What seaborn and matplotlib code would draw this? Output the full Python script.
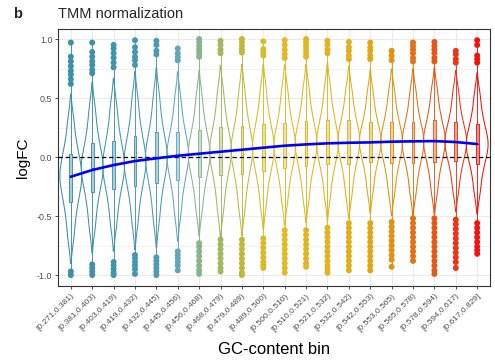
import numpy as np
import pandas as pd
import matplotlib
matplotlib.use("Agg")
import matplotlib.pyplot as plt
from matplotlib.ticker import FixedLocator
from matplotlib.colors import to_rgb
import seaborn as sns

# GC-content bins (x categories)
gc_bins = ["[0.271,0.381)", "[0.381,0.403)", "[0.403,0.419)", "[0.419,0.432)",
           "[0.432,0.445)", "[0.445,0.456)", "[0.456,0.468)", "[0.468,0.479)",
           "[0.479,0.489)", "[0.489,0.500)", "[0.500,0.510)", "[0.510,0.521)",
           "[0.521,0.532)", "[0.532,0.542)", "[0.542,0.553)", "[0.553,0.565)",
           "[0.565,0.578)", "[0.578,0.594)", "[0.594,0.617)", "[0.617,0.829]"]

# logFC distribution per bin, summarised by evenly spaced quantiles (k/12)
logfc_min = [-1.00, -1.00, -1.00, -0.99, -1.00, -0.96, -0.99, -0.97, -1.00, -0.94,
             -0.98, -0.93, -0.98, -0.96, -0.96, -0.93, -0.88, -0.99, -0.94, -0.82]
logfc_q08 = [-0.67, -0.58, -0.56, -0.54, -0.52, -0.48, -0.44, -0.44, -0.43, -0.39,
             -0.36, -0.34, -0.32, -0.31, -0.28, -0.295, -0.295, -0.285, -0.27, -0.29]
logfc_q17 = [-0.49, -0.40, -0.38, -0.35, -0.33, -0.30, -0.27, -0.26, -0.25, -0.21,
             -0.19, -0.17, -0.15, -0.15, -0.125, -0.14, -0.14, -0.13, -0.12, -0.14]
logfc_q25 = [-0.38, -0.295, -0.275, -0.245, -0.22, -0.195, -0.17, -0.155, -0.145, -0.115,
             -0.095, -0.075, -0.06, -0.055, -0.04, -0.05, -0.05, -0.04, -0.035, -0.055]
logfc_q33 = [-0.29, -0.20, -0.18, -0.15, -0.12, -0.10, -0.08, -0.06, -0.05, -0.03,
             -0.01, 0.01, 0.02, 0.03, 0.04, 0.03, 0.03, 0.04, 0.04, 0.02]
logfc_q42 = [-0.22, -0.14, -0.12, -0.09, -0.06, -0.04, -0.02, 0.00, 0.01, 0.03,
             0.05, 0.07, 0.08, 0.08, 0.09, 0.08, 0.08, 0.09, 0.09, 0.07]
logfc_median = [-0.17, -0.09, -0.07, -0.035, -0.005, 0.01, 0.025, 0.05, 0.06, 0.08,
                0.095, 0.115, 0.125, 0.13, 0.13, 0.125, 0.125, 0.135, 0.13, 0.11]
logfc_q58 = [-0.12, -0.04, -0.02, 0.02, 0.05, 0.06, 0.075, 0.10, 0.11, 0.13,
             0.14, 0.16, 0.17, 0.175, 0.17, 0.17, 0.17, 0.18, 0.17, 0.15]
logfc_q67 = [-0.06, 0.02, 0.05, 0.08, 0.11, 0.12, 0.135, 0.16, 0.17, 0.19,
             0.20, 0.22, 0.23, 0.23, 0.22, 0.22, 0.22, 0.23, 0.22, 0.20]
logfc_q75 = [0.025, 0.115, 0.14, 0.18, 0.21, 0.21, 0.225, 0.255, 0.265, 0.28,
             0.29, 0.305, 0.315, 0.31, 0.30, 0.30, 0.30, 0.31, 0.30, 0.28]
logfc_q83 = [0.12, 0.22, 0.25, 0.29, 0.32, 0.31, 0.325, 0.36, 0.37, 0.38,
             0.39, 0.40, 0.41, 0.40, 0.385, 0.39, 0.39, 0.40, 0.385, 0.365]
logfc_q92 = [0.30, 0.40, 0.43, 0.48, 0.51, 0.49, 0.505, 0.54, 0.55, 0.56,
             0.56, 0.57, 0.58, 0.56, 0.54, 0.545, 0.545, 0.555, 0.54, 0.52]
logfc_max = [0.97, 0.97, 0.95, 0.99, 0.985, 0.92, 1.00, 0.985, 1.00, 0.98,
             0.99, 1.00, 0.985, 0.975, 0.97, 0.90, 0.97, 0.975, 0.90, 0.99]

# Outlying genes beyond the box whiskers
upper_points = [
    [0.97, 0.85, 0.81, 0.77, 0.73, 0.70, 0.66, 0.62],
    [0.97, 0.89, 0.85, 0.81, 0.78, 0.74, 0.71],
    [0.95, 0.92, 0.88, 0.84, 0.80, 0.76],
    [0.99, 0.93, 0.89, 0.85, 0.82, 0.78],
    [0.985, 0.95, 0.90, 0.87],
    [0.92, 0.88, 0.85, 0.82],
    [1.00, 0.97, 0.94, 0.91, 0.88, 0.85],
    [0.985, 0.95, 0.91, 0.88],
    [1.00, 0.97, 0.94, 0.91, 0.885],
    [0.98, 0.915, 0.885, 0.86],
    [0.99, 0.95, 0.91, 0.87, 0.84],
    [1.00, 0.97, 0.94, 0.91, 0.88, 0.85],
    [0.985, 0.95, 0.91, 0.88],
    [0.975, 0.93, 0.90, 0.86, 0.83],
    [0.97, 0.93, 0.90, 0.86, 0.83],
    [0.90, 0.86, 0.82],
    [0.97, 0.94, 0.91, 0.88, 0.84, 0.81],
    [0.975, 0.94, 0.91, 0.88, 0.84, 0.81],
    [0.90, 0.87, 0.83, 0.80],
    [0.99, 0.95, 0.86, 0.83, 0.80],
]
lower_points = [
    [-0.97, -1.00],
    [-0.91, -0.94, -0.97, -1.00],
    [-0.89, -0.92, -0.95, -0.98, -1.00],
    [-0.83, -0.86, -0.89, -0.92, -0.95, -0.99],
    [-0.85, -0.88, -0.91, -0.94, -0.97, -1.00],
    [-0.80, -0.83, -0.86, -0.89, -0.92, -0.96],
    [-0.73, -0.76, -0.80, -0.84, -0.88, -0.92, -0.96, -0.99],
    [-0.70, -0.74, -0.78, -0.82, -0.86, -0.90, -0.94, -0.97],
    [-0.70, -0.74, -0.78, -0.82, -0.86, -0.90, -0.94, -0.98, -1.00],
    [-0.69, -0.73, -0.77, -0.81, -0.85, -0.89, -0.92, -0.94],
    [-0.62, -0.66, -0.70, -0.74, -0.78, -0.82, -0.86, -0.90, -0.94, -0.98],
    [-0.62, -0.66, -0.70, -0.74, -0.78, -0.82, -0.86, -0.90, -0.93],
    [-0.60, -0.64, -0.68, -0.72, -0.76, -0.80, -0.84, -0.88, -0.92, -0.95, -0.98],
    [-0.56, -0.60, -0.64, -0.68, -0.72, -0.76, -0.80, -0.84, -0.88, -0.92, -0.96],
    [-0.56, -0.60, -0.64, -0.68, -0.72, -0.76, -0.80, -0.84, -0.88, -0.92, -0.96],
    [-0.55, -0.59, -0.63, -0.67, -0.71, -0.75, -0.79, -0.83, -0.87, -0.93],
    [-0.52, -0.56, -0.60, -0.64, -0.68, -0.72, -0.76, -0.80, -0.84, -0.88],
    [-0.52, -0.56, -0.60, -0.64, -0.68, -0.72, -0.76, -0.80, -0.84, -0.88, -0.92, -0.96, -0.99],
    [-0.53, -0.57, -0.61, -0.65, -0.69, -0.73, -0.77, -0.81, -0.85, -0.89, -0.94],
    [-0.56, -0.60, -0.64, -0.68, -0.72, -0.76, -0.79, -0.82],
]

# Smoothed logFC trend across bins
trend_logfc = [-0.167, -0.11, -0.068, -0.034, -0.011, 0.011, 0.028, 0.045, 0.062, 0.079,
               0.096, 0.107, 0.116, 0.121, 0.124, 0.13, 0.133, 0.135, 0.127, 0.11]

bin_colors = ["#3A8FA9", "#3D91AB", "#4094AD", "#4596AF", "#4C9BB2", "#63A7B7",
              "#87B38F", "#A2B85F", "#C0BA3A", "#D6BD26", "#E2BA26", "#E2B622",
              "#E2B31E", "#E2AF1A", "#E0A616", "#E09212", "#E27214", "#E65616",
              "#EC3516", "#F2140C"]

inner_sets = [logfc_q08, logfc_q17, logfc_q25, logfc_q33, logfc_q42, logfc_median,
              logfc_q58, logfc_q67, logfc_q75, logfc_q83, logfc_q92]
all_sets = [logfc_min] + inner_sets + [logfc_max]

core = pd.DataFrame(
    [(lab, v) for q in inner_sets for lab, v in zip(gc_bins, q)],
    columns=["bin", "logFC"])
full = pd.DataFrame(
    [(lab, v) for q in all_sets for lab, v in zip(gc_bins, q)],
    columns=["bin", "logFC"])
outliers = pd.DataFrame(
    [(lab, v) for lab, up, lo in zip(gc_bins, upper_points, lower_points) for v in up + lo],
    columns=["bin", "logFC"])

sns.set_theme(style="white")
plt.rcParams["font.family"] = ["Liberation Sans", "DejaVu Sans"]
plt.rcParams["axes.unicode_minus"] = False

fig = plt.figure(figsize=(4.95, 3.61), dpi=100)
ax = fig.add_axes([58 / 495, 1 - 286 / 361, 432 / 495, 257 / 361])

# zero reference line
ax.axhline(0, color="black", lw=0.9, ls=(0, (3.4, 2.4)), zorder=3)

# violins of the central mass, tapering tails
sns.violinplot(data=core, x="bin", y="logFC", hue="bin", order=gc_bins,
               hue_order=gc_bins, palette=bin_colors, fill=False, inner=None,
               cut=2.0, bw_method=0.42, density_norm="width", width=1.02,
               linewidth=0.75, gridsize=250, legend=False, ax=ax)

# narrow boxes; whiskers run to the extreme values
for lab, col in zip(gc_bins, bin_colors):
    sub = full[full["bin"] == lab]
    face = tuple(0.45 * c + 0.55 for c in to_rgb(col))
    sns.boxplot(x=sub["bin"], y=sub["logFC"], order=gc_bins, color=face,
                linecolor=col, saturation=1, width=0.13, whis=(0, 100),
                showfliers=False, showcaps=False, linewidth=0.65, ax=ax)

sns.stripplot(data=outliers, x="bin", y="logFC", hue="bin", order=gc_bins,
              hue_order=gc_bins, palette=bin_colors, jitter=False, size=4.3,
              linewidth=0, legend=False, ax=ax, zorder=4)

sns.lineplot(x=np.arange(len(gc_bins)), y=trend_logfc, color="#0000FF",
             lw=1.9, ax=ax, zorder=6)

ax.set_xlim(-0.6, len(gc_bins) - 0.4)
ax.set_ylim(-1.093, 1.085)
ax.set_yticks([-1.0, -0.5, 0.0, 0.5, 1.0])
ax.set_yticklabels(["-1.0", "-0.5", "0.0", "0.5", "1.0"])
ax.yaxis.set_minor_locator(FixedLocator([-0.75, -0.25, 0.25, 0.75]))
ax.set_xticks(np.arange(len(gc_bins)))
ax.set_xticklabels(gc_bins, rotation=45, ha="right", rotation_mode="anchor")

ax.set_axisbelow(True)
ax.grid(which="major", axis="both", color="#EBEBEB", lw=0.8)
ax.grid(which="minor", axis="y", color="#EBEBEB", lw=0.45)

for sp in ax.spines.values():
    sp.set_visible(True)
    sp.set_color("#333333")
    sp.set_linewidth(0.8)

ax.tick_params(axis="both", which="major", length=2.5, width=0.6, color="#333333",
               labelcolor="#4D4D4D", pad=1.5)
ax.tick_params(axis="y", labelsize=6.4, left=True)
ax.tick_params(axis="x", labelsize=6.0, bottom=True, pad=2.0)
ax.tick_params(axis="both", which="minor", length=0)

ax.set_xlabel("GC-content bin", fontsize=12, color="black", va="center")
ax.xaxis.set_label_coords(0.5, (286 - 350) / 257)
ax.set_ylabel("logFC", fontsize=11, color="black", va="center")
ax.yaxis.set_label_coords((23 - 58) / 432, 0.5)

fig.text(13 / 495, 1 - 14 / 361, "b", fontsize=10.5, fontweight="bold", va="center")
fig.text(58 / 495, 1 - 14 / 361, "TMM normalization", fontsize=10.5, va="center")

fig.savefig("out.png", dpi=100)
